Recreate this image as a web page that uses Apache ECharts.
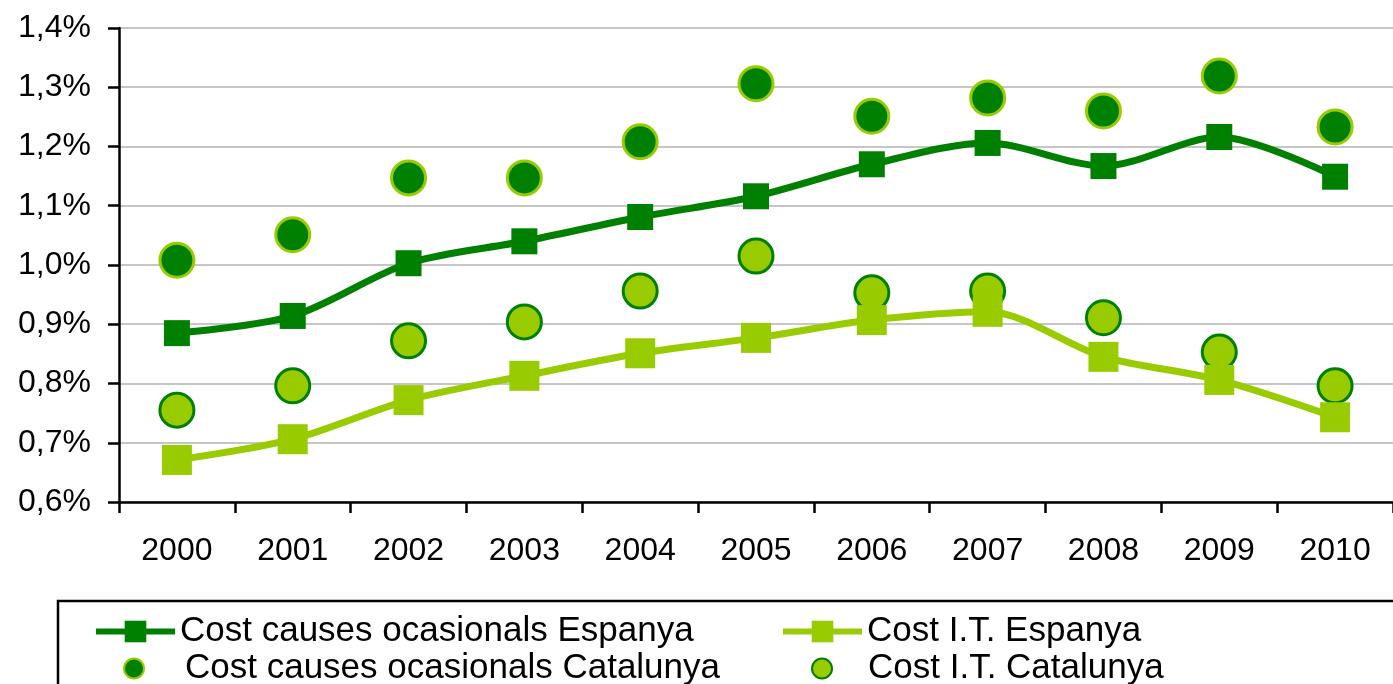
<!DOCTYPE html>
<html>
<head>
  <meta charset="utf-8" />
  <script src="https://cdn.jsdelivr.net/npm/echarts@6/dist/echarts.min.js"></script>
  <style>
    html, body { margin: 0; padding: 0; background: #fff; }
    #main { width: 1393px; height: 684px; }
  </style>
</head>
<body>
  <div id="main"></div>
  <script>
    // data (in %)
    const years = ['2000', '2001', '2002', '2003', '2004', '2005', '2006', '2007', '2008', '2009', '2010']
    const causesEspanya = [0.885, 0.914, 1.003, 1.04, 1.081, 1.116, 1.17, 1.206, 1.167, 1.216, 1.149]
    const itEspanya = [0.671, 0.706, 0.772, 0.813, 0.851, 0.877, 0.907, 0.921, 0.845, 0.806, 0.743]
    const causesCatalunya = [1.008, 1.051, 1.147, 1.147, 1.208, 1.306, 1.251, 1.282, 1.26, 1.319, 1.233]
    const itCatalunya = [0.755, 0.796, 0.872, 0.904, 0.956, 1.015, 0.953, 0.956, 0.911, 0.853, 0.796]
    const names = [
      'Cost causes ocasionals Espanya',
      'Cost I.T. Espanya',
      'Cost causes ocasionals Catalunya',
      'Cost I.T. Catalunya'
    ]

    const dark = '#008000'
    const light = '#99cc00'
    const font = "'Liberation Sans', Arial, sans-serif"

    const myChart = echarts.init(document.getElementById('main'))

    // one legend per entry so each one sits where the reference has it
    function legendOf(name, left, top, w, h, padLeft) {
      return {
        data: [name],
        left: left,
        top: top,
        padding: 0,
        itemWidth: w,
        itemHeight: h,
        itemGap: 0,
        selectedMode: false,
        lineStyle: { width: 6 },
        textStyle: { fontFamily: font, fontSize: 35, color: '#000', padding: [0, 0, 0, padLeft] }
      }
    }

    const option = {
      backgroundColor: '#fff',
      animation: false,
      grid: {
        left: 119,
        right: -19,
        top: 28,
        bottom: 182
      },
      graphic: [
        {
          type: 'rect',
          shape: { x: 58, y: 601, width: 1400, height: 120 },
          style: { fill: 'none', stroke: '#000', lineWidth: 2.5 },
          silent: true
        }
      ],
      legend: [
        legendOf(names[0], 93, 614, 79, 27, 0),
        legendOf(names[1], 780, 614, 79, 27, 0),
        legendOf(names[2], 123, 651, 20, 20, 36),
        legendOf(names[3], 811, 651, 20, 20, 31)
      ],
      xAxis: {
        type: 'category',
        data: years,
        boundaryGap: true,
        axisLine: { lineStyle: { color: '#000', width: 2.5 } },
        axisTick: { show: true, length: 11, lineStyle: { color: '#000', width: 2.5 } },
        axisLabel: { fontFamily: font, fontSize: 32, color: '#000', margin: 33 },
        splitLine: { show: false }
      },
      yAxis: {
        type: 'value',
        min: 0.6,
        max: 1.4,
        interval: 0.1,
        axisLine: { show: true, lineStyle: { color: '#000', width: 2.5 } },
        axisTick: { show: true, length: 11, lineStyle: { color: '#000', width: 2.5 } },
        axisLabel: {
          fontFamily: font,
          fontSize: 32,
          color: '#000',
          margin: 28,
          formatter: (v) => v.toFixed(1).replace('.', ',') + '%'
        },
        splitLine: { lineStyle: { color: '#b3b3b3', width: 1.5 } }
      },
      series: [
        {
          name: names[0],
          type: 'line',
          data: causesEspanya,
          smooth: 0.3,
          symbol: 'rect',
          symbolSize: 26,
          lineStyle: { color: dark, width: 7 },
          itemStyle: { color: dark, opacity: 1 }
        },
        {
          name: names[1],
          type: 'line',
          data: itEspanya,
          smooth: 0.3,
          symbol: 'rect',
          symbolSize: 30,
          lineStyle: { color: light, width: 7 },
          itemStyle: { color: light, opacity: 1 }
        },
        {
          name: names[2],
          type: 'scatter',
          data: causesCatalunya,
          symbol: 'circle',
          symbolSize: 34,
          itemStyle: { color: dark, borderColor: light, borderWidth: 3, opacity: 1 }
        },
        {
          name: names[3],
          type: 'scatter',
          data: itCatalunya,
          symbol: 'circle',
          symbolSize: 34,
          itemStyle: { color: light, borderColor: dark, borderWidth: 3, opacity: 1 }
        }
      ]
    }

    myChart.setOption(option)
  </script>
</body>
</html>
